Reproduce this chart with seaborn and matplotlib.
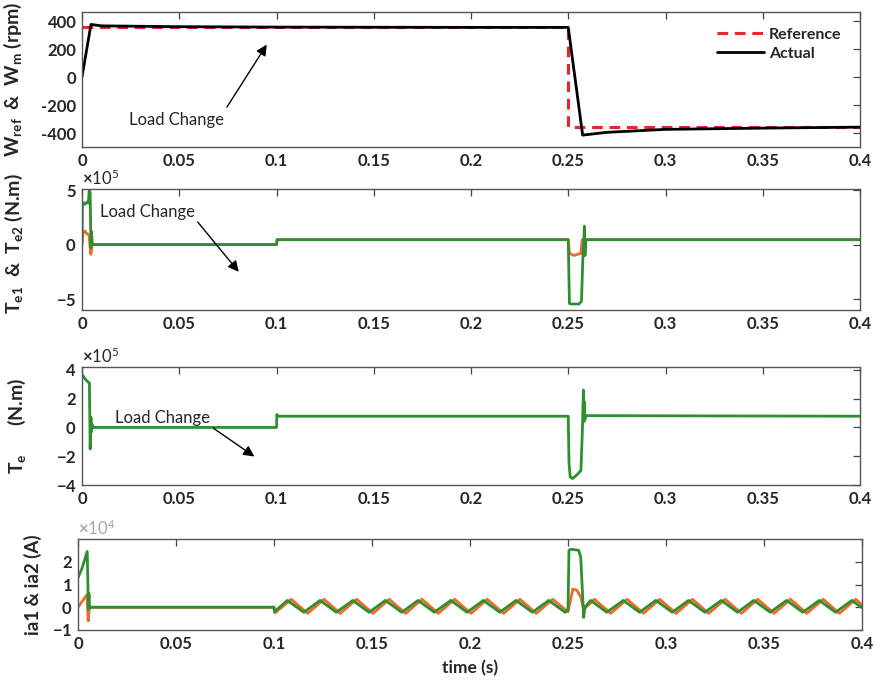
import numpy as np
import pandas as pd
import matplotlib
matplotlib.use("Agg")
import matplotlib.pyplot as plt
import seaborn as sns

sns.set_theme(style="white")
plt.rcParams['font.family'] = ['Lato', 'DejaVu Sans']
plt.rcParams['axes.unicode_minus'] = False
plt.rcParams['mathtext.fontset'] = 'custom'
plt.rcParams['mathtext.rm'] = 'Lato:bold'
plt.rcParams['mathtext.bf'] = 'Lato:bold'
plt.rcParams['mathtext.it'] = 'Lato:bold'
plt.rcParams['mathtext.default'] = 'bf'

# ---------------- speed (rpm) ----------------
ref_t = [0.0, 0.25, 0.25, 0.4]
ref_w = [355, 355, -355, -355]
act_t = [0.0, 0.0046, 0.01, 0.05, 0.1, 0.2, 0.25, 0.2574, 0.27, 0.3, 0.35, 0.4]
act_w = [0, 376, 366, 360, 357, 355, 355, -415, -395, -374, -365, -358]

# ---------------- machine torques Te1 / Te2 (N.m) ----------------
te2_t = [0.0, 0.0002, 0.0015, 0.0026, 0.0033, 0.0037, 0.0042, 0.0046, 0.0049, 0.0053,
         0.1, 0.1003, 0.25, 0.2506, 0.2515, 0.2555, 0.2568, 0.2576, 0.258, 0.2583, 0.2586, 0.259, 0.4]
te2_v = [0.0, 3.9e5, 3.7e5, 3.9e5, 3.8e5, 5.0e5, 4.8e5, -0.3e5, 1.2e5, 0.0,
         0.0, 0.45e5, 0.45e5, -5.4e5, -5.45e5, -5.45e5, -5.2e5, -0.8e5, 0.2e5, 1.7e5, -1.0e5, 0.45e5, 0.45e5]
te1_t = [0.0, 0.0005, 0.0015, 0.0025, 0.0036, 0.0045, 0.0048, 0.0052,
         0.1, 0.1003, 0.25, 0.2506, 0.253, 0.2555, 0.2565, 0.2572, 0.4]
te1_v = [0.2e5, 1.1e5, 1.25e5, 1.0e5, 0.9e5, -0.9e5, -0.6e5, 0.0,
         0.0, 0.45e5, 0.45e5, -0.8e5, -1.0e5, -0.85e5, -0.8e5, 0.45e5, 0.45e5]

# ---------------- total torque Te (N.m) ----------------
te_t = [0.0, 0.0005, 0.002, 0.0032, 0.0038, 0.0042, 0.0046, 0.0049, 0.0052, 0.0056,
        0.1, 0.1002, 0.1006, 0.25, 0.2504, 0.251, 0.2522, 0.254, 0.2565, 0.2572,
        0.2578, 0.258, 0.2582, 0.2585, 0.259, 0.4]
te_v = [3.5e5, 3.6e5, 3.3e5, 3.15e5, 3.1e5, -1.5e5, 0.7e5, -0.3e5, 0.2e5, 0.0,
        0.0, 0.9e5, 0.78e5, 0.78e5, -2.5e5, -3.45e5, -3.55e5, -3.35e5, -3.0e5, -0.5e5,
        2.6e5, 0.4e5, 1.8e5, 0.5e5, 0.82e5, 0.78e5]

# ---------------- phase currents ia1 / ia2 (A) ----------------
ia2_t = [0.0, 0.002, 0.0047, 0.0053, 0.0056, 0.0059, 0.0063, 0.1, 0.1002,
         0.1068, 0.1152, 0.1235, 0.1318, 0.1402, 0.1485, 0.1568, 0.1652, 0.1735,
         0.1818, 0.1902, 0.1985, 0.2068, 0.2152, 0.2235, 0.2318, 0.2402, 0.2485, 0.25,
         0.2505, 0.2515, 0.2555, 0.2565, 0.258, 0.2586,
         0.2615, 0.2698, 0.2782, 0.2865, 0.2948, 0.3032, 0.3115, 0.3198, 0.3282,
         0.3365, 0.3448, 0.3532, 0.3615, 0.3698, 0.3782, 0.3865, 0.3948, 0.4]
ia2_v = [1.3e4, 1.7e4, 2.45e4, -0.1e4, 0.6e4, -0.05e4, 0.0, 0.0, -0.2e4,
         0.3e4, -0.22e4, 0.3e4, -0.22e4, 0.3e4, -0.22e4, 0.3e4, -0.22e4, 0.3e4,
         -0.22e4, 0.3e4, -0.22e4, 0.3e4, -0.22e4, 0.3e4, -0.22e4, 0.3e4, -0.22e4, -0.12e4,
         2.5e4, 2.55e4, 2.5e4, 2.2e4, -0.45e4, 0.0,
         0.3e4, -0.22e4, 0.3e4, -0.22e4, 0.3e4, -0.22e4, 0.3e4, -0.22e4, 0.3e4,
         -0.22e4, 0.3e4, -0.22e4, 0.3e4, -0.22e4, 0.3e4, -0.22e4, 0.3e4, -0.02e4]
ia1_t = [0.0, 0.0045, 0.0052, 0.0058, 0.1, 0.1005,
         0.1088, 0.1172, 0.1255, 0.1338, 0.1422, 0.1505, 0.1588, 0.1672, 0.1755,
         0.1838, 0.1922, 0.2005, 0.2088, 0.2172, 0.2255, 0.2338, 0.2422, 0.25,
         0.2525, 0.2545, 0.2565, 0.258,
         0.2635, 0.2718, 0.2802, 0.2885, 0.2968, 0.3052, 0.3135, 0.3218, 0.3302,
         0.3385, 0.3468, 0.3552, 0.3635, 0.3718, 0.3802, 0.3885, 0.3968, 0.4]
ia1_v = [0.0, 0.55e4, -0.6e4, 0.0, 0.0, -0.25e4,
         0.35e4, -0.27e4, 0.35e4, -0.27e4, 0.35e4, -0.27e4, 0.35e4, -0.27e4, 0.35e4,
         -0.27e4, 0.35e4, -0.27e4, 0.35e4, -0.27e4, 0.35e4, -0.27e4, 0.35e4, -0.2e4,
         0.8e4, 0.75e4, 0.45e4, -0.1e4,
         0.35e4, -0.27e4, 0.35e4, -0.27e4, 0.35e4, -0.27e4, 0.35e4, -0.27e4, 0.35e4,
         -0.27e4, 0.35e4, -0.27e4, 0.35e4, -0.27e4, 0.35e4, -0.27e4, 0.35e4, 0.11e4]

x_ticks = [0, 0.05, 0.1, 0.15, 0.2, 0.25, 0.3, 0.35, 0.4]

GREEN = "#2f8f2f"
ORANGE = "#ef6a2e"
RED = "#e8262b"

W, H = 875, 689
fig = plt.figure(figsize=(W / 100, H / 100), dpi=100)


def rect(l, r, t, b):
    return [l / W, 1 - b / H, (r - l) / W, (b - t) / H]


ax1 = fig.add_axes(rect(82, 860, 12, 147))
ax2 = fig.add_axes(rect(82, 860, 189, 310))
ax3 = fig.add_axes(rect(82, 860, 367, 485))
ax4 = fig.add_axes(rect(78, 862, 539, 630))


def line(ax, t, v, **kw):
    sns.lineplot(x=t, y=v, ax=ax, estimator=None, sort=False, errorbar=None, **kw)


line(ax1, ref_t, ref_w, color=RED, lw=2.2, linestyle=(0, (3.5, 2.2)), label="Reference")
line(ax1, act_t, act_w, color="black", lw=2.0, label="Actual")

line(ax2, te1_t, te1_v, color=ORANGE, lw=2.0)
line(ax2, te2_t, te2_v, color=GREEN, lw=2.0)

line(ax3, te_t, te_v, color=GREEN, lw=2.0)

line(ax4, ia1_t, ia1_v, color=ORANGE, lw=2.0)
line(ax4, ia2_t, ia2_v, color=GREEN, lw=2.0)

ax1.set_ylim(-500, 465)
ax1.set_yticks([-400, -200, 0, 200, 400])
ax2.set_ylim(-6.0e5, 5.1e5)
ax2.set_yticks([-5e5, 0, 5e5])
ax3.set_ylim(-4.0e5, 4.2e5)
ax3.set_yticks([-4e5, -2e5, 0, 2e5, 4e5])
ax4.set_ylim(-1.0e4, 3.0e4)
ax4.set_yticks([-1e4, 0, 1e4, 2e4])

for ax in (ax1, ax2, ax3, ax4):
    ax.set_xlim(0, 0.4)
    ax.set_xticks(x_ticks)
    ax.set_xticklabels([f"{v:g}" for v in x_ticks])
    ax.tick_params(direction="in", top=True, right=True, length=5, width=0.9,
                   color="#444444", labelsize=12, pad=4)
    for s in ax.spines.values():
        s.set_color("#555555")
        s.set_linewidth(1.0)
    ax.set_xlabel("")
    if ax.get_legend() is not None:
        ax.get_legend().remove()

for ax in (ax2, ax3, ax4):
    ax.ticklabel_format(axis="y", style="sci", scilimits=(0, 0), useMathText=True)
    ax.yaxis.get_offset_text().set_fontsize(12)
    ax.yaxis.get_offset_text().set_fontweight("normal")
ax4.yaxis.get_offset_text().set_color("#a8a8a8")

for ax in (ax1, ax2, ax3, ax4):
    for lab in ax.get_xticklabels() + ax.get_yticklabels():
        lab.set_fontweight("bold")

ax1.set_ylabel(r"$W_{ref}$  &  $W_m$ (rpm)", fontsize=14, fontweight="bold")
ax2.set_ylabel(r"$T_{e1}$  &  $T_{e2}$ (N.m)", fontsize=14, fontweight="bold")
ax3.set_ylabel(r"$T_e$      (N.m)", fontsize=14, fontweight="bold")
ax4.set_ylabel("ia1 & ia2 (A)", fontsize=13.5, fontweight="bold")
ax1.yaxis.set_label_coords(-0.074, 0.5)
ax2.yaxis.set_label_coords(-0.073, 0.55)
ax3.yaxis.set_label_coords(-0.070, 0.5)
ax4.yaxis.set_label_coords(-0.046, 0.5)
ax4.set_xlabel("time (s)", fontsize=12.5, fontweight="bold", labelpad=6)

leg = ax1.legend(loc="upper right", bbox_to_anchor=(0.995, 0.99), frameon=False,
                 handlelength=3.0, handletextpad=0.3, labelspacing=0.3,
                 prop={"weight": "bold", "size": 11.5})

arrow = dict(arrowstyle="-|>", color="black", lw=1.0, mutation_scale=16,
             shrinkA=0, shrinkB=0)
ax1.text(0.0488, -307, "Load Change", fontsize=12, ha="center", va="center")
ax1.annotate("", xy=(0.0950, 232), xytext=(0.0745, -215), arrowprops=arrow)
ax2.text(0.0337, 2.98e5, "Load Change", fontsize=12, ha="center", va="center")
ax2.annotate("", xy=(0.0806, -2.5e5), xytext=(0.0595, 2.07e5), arrowprops=arrow)
ax3.text(0.0414, 0.65e5, "Load Change", fontsize=12, ha="center", va="center")
ax3.annotate("", xy=(0.0886, -2.02e5), xytext=(0.0675, -0.05e5), arrowprops=arrow)

fig.savefig("out.png", dpi=100)
